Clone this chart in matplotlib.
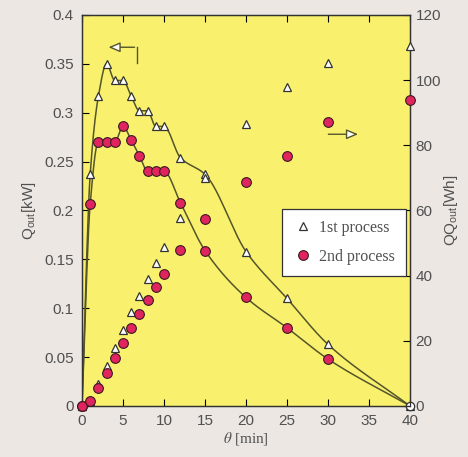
import numpy as np
import matplotlib
matplotlib.use("Agg")
import matplotlib.pyplot as plt

# данные
theta = [0, 1, 2, 3, 4, 5, 6, 7, 8, 9, 10, 12, 15, 20, 25, 30, 40]
q1 = [0, 0.237, 0.317, 0.350, 0.333, 0.333, 0.317, 0.302, 0.302, 0.286, 0.286,
      0.254, 0.237, 0.158, 0.110, 0.063, 0]
q2 = [0, 0.207, 0.270, 0.270, 0.270, 0.286, 0.272, 0.256, 0.240, 0.240, 0.240,
      0.208, 0.159, 0.111, 0.080, 0.048, 0]
qq1 = [0, 1.5, 6.6, 12.3, 17.9, 23.3, 28.7, 33.8, 38.9, 44.0, 48.7,
       57.6, 70.0, 86.5, 97.8, 105.2, 110.5]
qq2 = [0, 1.5, 5.4, 10.0, 14.6, 19.2, 23.8, 28.2, 32.5, 36.4, 40.5,
       48.0, 57.3, 68.7, 76.7, 87.3, 93.9]

xticks = [0, 5, 10, 15, 20, 25, 30, 35, 40]
lticks = [0, 0.05, 0.1, 0.15, 0.2, 0.25, 0.3, 0.35, 0.4]
lticklabels = ["0", "0.05", "0.1", "0.15", "0.2", "0.25", "0.3", "0.35", "0.4"]
rticks = [0, 20, 40, 60, 80, 100, 120]


def pchip(x, y, n=400):
    # гладкая монотонная кривая через точки
    x = np.asarray(x, float)
    y = np.asarray(y, float)
    h = np.diff(x)
    d = np.diff(y) / h
    m = np.zeros_like(y)
    for k in range(1, len(x) - 1):
        if d[k - 1] * d[k] > 0:
            w1 = 2 * h[k] + h[k - 1]
            w2 = h[k] + 2 * h[k - 1]
            m[k] = (w1 + w2) / (w1 / d[k - 1] + w2 / d[k])
    m[0] = d[0]
    m[-1] = d[-1]
    xs = np.linspace(x[0], x[-1], n)
    idx = np.clip(np.searchsorted(x, xs) - 1, 0, len(x) - 2)
    t = (xs - x[idx]) / h[idx]
    h00 = 2 * t**3 - 3 * t**2 + 1
    h10 = t**3 - 2 * t**2 + t
    h01 = -2 * t**3 + 3 * t**2
    h11 = t**3 - t**2
    ys = h00 * y[idx] + h10 * h[idx] * m[idx] + h01 * y[idx + 1] + h11 * h[idx] * m[idx + 1]
    return xs, ys


plt.rcParams["font.family"] = ["Liberation Sans", "DejaVu Sans"]
plt.rcParams["mathtext.fontset"] = "stix"

bg = "#ECE7E3"
yellow = "#F9F16E"
linec = "#55552A"
pink = "#E0245E"
txt = "#505050"

fig = plt.figure(figsize=(4.68, 4.57), dpi=100, facecolor=bg)
ax = fig.add_axes([0.1752, 0.1116, 0.7009, 0.8556])
ax.set_facecolor(yellow)
ax2 = ax.twinx()

# кривые Q
xs, ys = pchip(theta, q1)
ax.plot(xs, ys, color=linec, lw=1.1, zorder=2)
xs, ys = pchip(theta, q2)
ax.plot(xs, ys, color=linec, lw=1.1, zorder=2)

tri = dict(marker="^", ms=6, mfc="white", mec="#333333", mew=0.9, ls="none",
           zorder=3, clip_on=False)
cir = dict(marker="o", ms=7, mfc=pink, mec="#3A1A22", mew=0.8, ls="none",
           zorder=4, clip_on=False)

ax.plot(theta, q1, **tri)
ax.plot(theta[:-1], q2[:-1], **cir)
# последняя точка 2-го процесса на графике белая
ax.plot(theta[-1:], q2[-1:], marker="o", ms=6, mfc="white", mec="#333333",
        mew=0.9, ls="none", zorder=5, clip_on=False)
ax2.plot(theta, qq1, **tri)
ax2.plot(theta, qq2, **cir)

ax.set_xlim(0, 40)
ax.set_ylim(0, 0.4)
ax2.set_ylim(0, 120)
ax.set_xticks(xticks)
ax.set_yticks(lticks)
ax.set_yticklabels(lticklabels)
ax2.set_yticks(rticks)

for a in (ax, ax2):
    a.tick_params(direction="in", length=5, width=0.8, labelsize=11, labelcolor=txt, pad=6)
    for s in a.spines.values():
        s.set_color("#333333")
        s.set_linewidth(0.9)
ax.tick_params(top=True)
ax2.tick_params(pad=4)

ax.set_ylabel(r"$\mathregular{Q_{out}}$[kW]", fontsize=11, color=txt, labelpad=4)
ax2.set_ylabel(r"$\mathregular{QQ_{out}}$[Wh]", fontsize=11, color=txt, labelpad=1)
ax.set_xlabel(r"$\theta$ [min]", fontsize=11, color=txt, family="Liberation Serif", labelpad=1)

# стрелки
ax.plot([6.7, 6.7], [0.351, 0.367], color=linec, lw=1.0)
ax.annotate("", xy=(2.9, 0.367), xytext=(6.75, 0.367),
            arrowprops=dict(arrowstyle="-|>,head_length=0.7,head_width=0.3",
                            fc="white", ec=linec, lw=1.0))
ax2.annotate("", xy=(34.0, 83.4), xytext=(29.7, 83.4),
             arrowprops=dict(arrowstyle="-|>,head_length=0.7,head_width=0.3",
                             fc="white", ec=linec, lw=1.0))

h1, = ax.plot([], [], **tri)
h2, = ax.plot([], [], **cir)
leg = ax2.legend([h1, h2], ["1st process", "2nd process"], loc="upper left",
                 bbox_to_anchor=(0.585, 0.525), fancybox=False, framealpha=1,
                 edgecolor="#333333", prop={"family": "Liberation Serif", "size": 11.5},
                 handletextpad=0.4, borderpad=0.7, labelspacing=0.8, handlelength=1.2)
leg.get_frame().set_linewidth(0.9)
for t in leg.get_texts():
    t.set_color(txt)

fig.savefig("out.png", dpi=100, facecolor=bg)
